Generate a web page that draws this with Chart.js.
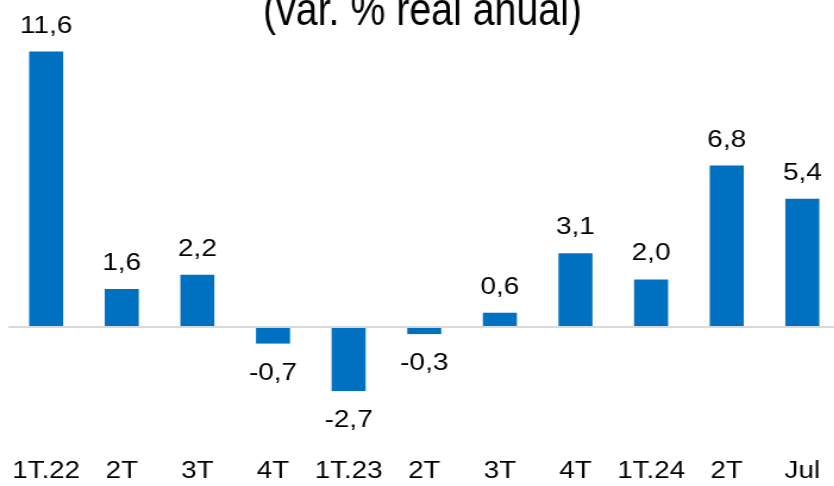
<!DOCTYPE html>
<html>
<head>
<meta charset="utf-8">
<script src="https://cdn.jsdelivr.net/npm/chart.js@4"></script>
<style>
  html, body { margin: 0; padding: 0; overflow: hidden; background: #fff; }
  /* o original vem esticado na horizontal */
  #wrap { width: 708px; height: 486px; transform: scaleX(1.19); transform-origin: 0 0; }
</style>
</head>
<body>
<div id="wrap"><canvas id="graficoVar" width="708" height="486"></canvas></div>
<script>
const categorias = ['1T.22', '2T', '3T', '4T', '1T.23', '2T', '3T', '4T', '1T.24', '2T', 'Jul'];
const variacao = [11.6, 1.6, 2.2, -0.7, -2.7, -0.3, 0.6, 3.1, 2.0, 6.8, 5.4];
const titulo = '(var. % real anual)';

const fonte = '"Liberation Sans", Arial, sans-serif';

// Título cortado no topo (mais alto e estreito que o resto do texto)
const tituloPlugin = {
    id: 'tituloCortado',
    afterDraw(chart) {
        const ctx = chart.ctx;
        ctx.save();
        ctx.font = '46px ' + fonte;
        ctx.fillStyle = '#000';
        ctx.textAlign = 'center';
        ctx.textBaseline = 'alphabetic';
        const larg = ctx.measureText(titulo).width;
        const sx = 268 / larg;
        ctx.translate(355, 25);
        ctx.scale(sx, 1);
        ctx.fillText(titulo, 0, 0);
        ctx.restore();
    }
};

// Rótulos de valor acima/abaixo das barras
const rotulosPlugin = {
    id: 'rotulos',
    afterDatasetsDraw(chart) {
        const ctx = chart.ctx;
        const meta = chart.getDatasetMeta(0);
        ctx.save();
        ctx.font = '23.5px ' + fonte;
        ctx.fillStyle = '#000';
        ctx.textAlign = 'center';
        ctx.textBaseline = 'alphabetic';
        meta.data.forEach((bar, i) => {
            const v = variacao[i];
            const txt = v.toFixed(1).replace('.', ',');
            const y = v >= 0 ? bar.y - 19 : bar.y + 36;
            ctx.fillText(txt, bar.x, y);
        });
        ctx.restore();
    }
};

const config = {
    type: 'bar',
    data: {
        labels: categorias,
        datasets: [{
            data: variacao,
            backgroundColor: '#0070C0',
            barPercentage: 0.45,
            categoryPercentage: 1
        }]
    },
    options: {
        responsive: false,
        animation: false,
        layout: { padding: { left: 7, right: 2, top: 0, bottom: 0 } },
        plugins: {
            legend: { display: false },
            tooltip: { enabled: false }
        },
        scales: {
            x: {
                grid: { display: false, drawTicks: false },
                border: { display: false },
                ticks: {
                    color: '#000',
                    padding: 0,
                    font: { family: fonte, size: 23.3 }
                }
            },
            y: {
                min: -5.52,
                max: 13.77,
                afterBuildTicks: (s) => { s.ticks = [{ value: 0 }]; },
                ticks: { display: false },
                border: { display: false },
                grid: {
                    drawTicks: false,
                    lineWidth: 2,
                    color: (c) => (c.tick && c.tick.value === 0 ? '#d9d9d9' : 'rgba(0,0,0,0)')
                }
            }
        }
    },
    plugins: [tituloPlugin, rotulosPlugin]
};

const ctx = document.getElementById('graficoVar').getContext('2d');
new Chart(ctx, config);
</script>
</body>
</html>
